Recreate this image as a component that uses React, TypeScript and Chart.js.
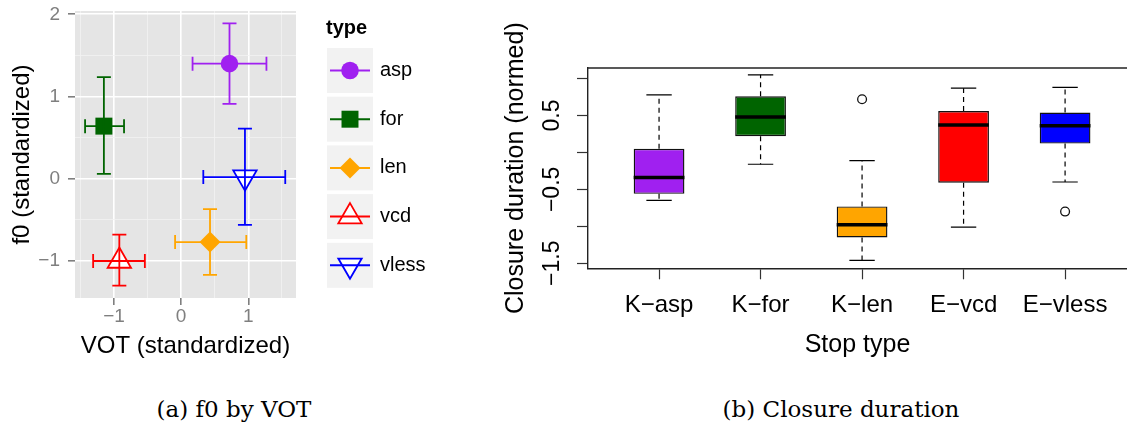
import React, { useEffect, useRef } from 'react';
import { Chart, registerables } from 'chart.js';
import { drawPoint } from 'chart.js/helpers';

Chart.register(...registerables);

const SANS = "'Liberation Sans', Arial, Helvetica, sans-serif";
const SERIF = "'DejaVu Serif', 'Liberation Serif', serif";

// ---------- Panel (a): f0 by VOT ----------
const types = ['asp', 'for', 'len', 'vcd', 'vless'];
const votMean = [0.72, -1.15, 0.43, -0.92, 0.95];
const votLow = [0.17, -1.43, -0.09, -1.31, 0.33];
const votHigh = [1.27, -0.85, 0.97, -0.54, 1.55];
const f0Mean = [1.4, 0.64, -0.77, -1.0, 0.02];
const f0Low = [0.91, 0.06, -1.17, -1.3, -0.56];
const f0High = [1.89, 1.235, -0.37, -0.68, 0.61];
const typeColors = ['#A020F0', '#006400', '#FFA500', '#FF0000', '#0000FF'];
const typeShapes = ['circle', 'rect', 'rectRot', 'triangle', 'triangle'];
const typeRotations = [0, 0, 0, 0, 180];
const typeFilled = [true, true, true, false, false];
const typeRadius = [8.8, 12, 10.5, 13.5, 13.5];

// ---------- Panel (b): closure duration ----------
const stopTypes = ['K\u2212asp', 'K\u2212for', 'K\u2212len', 'E\u2212vcd', 'E\u2212vless'];
const whiskerLow = [-0.65, -0.16, -1.46, -1.01, -0.4];
const boxQ1 = [-0.56, 0.22, -1.15, -0.41, 0.12];
const boxMedian = [-0.34, 0.48, -0.98, 0.37, 0.36];
const boxQ3 = [0.05, 0.76, -0.73, 0.56, 0.54];
const whiskerHigh = [0.78, 1.05, -0.11, 0.87, 0.88];
const outlierCategory = [3, 5];
const outlierValue = [0.72, -0.8];
const stopColors = ['#A020F0', '#006400', '#FFA500', '#FF0000', '#0000FF'];
const durationLabelTicks = [0.5, -0.5, -1.5];

const isWhole = (v: number) => Math.abs(v - Math.round(v)) < 1e-9;
const fmt = (v: number) => (v < 0 ? '\u2212' + String(Math.abs(v)) : String(v));
const noScalePadding = (s: any) => {
  s.paddingTop = 0;
  s.paddingBottom = 0;
  s.paddingLeft = 0;
  s.paddingRight = 0;
};
const fixWidth = (w: number) => (s: any) => {
  noScalePadding(s);
  s.width = w;
};
const fixHeight = (h: number) => (s: any) => {
  noScalePadding(s);
  s.height = h;
};

const panelBgPlugin = {
  id: 'panelBg',
  beforeDraw(chart: any) {
    const { ctx, chartArea: a } = chart;
    ctx.save();
    ctx.fillStyle = '#E5E5E5';
    ctx.fillRect(a.left, a.top, a.right - a.left, a.bottom - a.top);
    ctx.restore();
  },
};

const errorBarPlugin = {
  id: 'errorBars',
  afterDatasetsDraw(chart: any) {
    const { ctx } = chart;
    const x = chart.scales.x;
    const y = chart.scales.y;
    const cap = 7;
    ctx.save();
    ctx.lineWidth = 1.8;
    types.forEach((_, i) => {
      ctx.strokeStyle = typeColors[i];
      const px = x.getPixelForValue(votMean[i]);
      const py = y.getPixelForValue(f0Mean[i]);
      const x0 = x.getPixelForValue(votLow[i]);
      const x1 = x.getPixelForValue(votHigh[i]);
      const y0 = y.getPixelForValue(f0Low[i]);
      const y1 = y.getPixelForValue(f0High[i]);
      ctx.beginPath();
      ctx.moveTo(x0, py); ctx.lineTo(x1, py);
      ctx.moveTo(x0, py - cap); ctx.lineTo(x0, py + cap);
      ctx.moveTo(x1, py - cap); ctx.lineTo(x1, py + cap);
      ctx.moveTo(px, y0); ctx.lineTo(px, y1);
      ctx.moveTo(px - cap, y0); ctx.lineTo(px + cap, y0);
      ctx.moveTo(px - cap, y1); ctx.lineTo(px + cap, y1);
      ctx.stroke();
    });
    ctx.restore();
  },
};

const typeLegendPlugin = {
  id: 'typeLegend',
  afterDraw(chart: any) {
    const { ctx, chartArea: a } = chart;
    const left = a.right + 31;
    const top = a.top + 37;
    const key = 46;
    const pitch = 48.7;
    ctx.save();
    ctx.textAlign = 'left';
    ctx.textBaseline = 'middle';
    ctx.fillStyle = '#000';
    ctx.font = `bold 20px ${SANS}`;
    ctx.fillText('type', left - 1, a.top + 17);
    chart.data.datasets.forEach((ds: any, i: number) => {
      const ky = top + i * pitch;
      ctx.fillStyle = '#F2F2F2';
      ctx.fillRect(left, ky, key, key - 1);
      const cx = left + key / 2;
      const cy = ky + (key - 1) / 2;
      ctx.fillStyle = ds.pointBackgroundColor;
      ctx.strokeStyle = ds.pointBorderColor;
      ctx.lineWidth = ds.pointBorderWidth;
      drawPoint(ctx, {
        pointStyle: ds.pointStyle,
        rotation: ds.pointRotation,
        radius: ds.pointRadius,
        borderWidth: ds.pointBorderWidth,
      } as any, cx, cy);
      ctx.strokeStyle = ds.pointBorderColor;
      ctx.lineWidth = 2;
      ctx.beginPath();
      ctx.moveTo(left + 3, cy);
      ctx.lineTo(left + key - 3, cy);
      ctx.stroke();
      ctx.fillStyle = '#000';
      ctx.font = `20px ${SANS}`;
      ctx.fillText(ds.label, left + 53, cy);
    });
    ctx.restore();
  },
};

const boxDetailPlugin = {
  id: 'boxDetail',
  afterDatasetsDraw(chart: any) {
    const { ctx } = chart;
    const x = chart.scales.x;
    const y = chart.scales.y;
    ctx.save();
    stopTypes.forEach((_, i) => {
      const pos = i + 1;
      const cx = x.getPixelForValue(pos);
      const half = (x.getPixelForValue(pos + 0.25) - x.getPixelForValue(pos - 0.25)) / 2;
      const capHalf = half / 2;
      const yMed = y.getPixelForValue(boxMedian[i]);
      const yQ1 = y.getPixelForValue(boxQ1[i]);
      const yQ3 = y.getPixelForValue(boxQ3[i]);
      const yLo = y.getPixelForValue(whiskerLow[i]);
      const yHi = y.getPixelForValue(whiskerHigh[i]);
      ctx.strokeStyle = '#000';
      ctx.lineWidth = 1.2;
      ctx.setLineDash([5, 4]);
      ctx.beginPath();
      ctx.moveTo(cx, yQ3); ctx.lineTo(cx, yHi);
      ctx.moveTo(cx, yQ1); ctx.lineTo(cx, yLo);
      ctx.stroke();
      ctx.setLineDash([]);
      ctx.beginPath();
      ctx.moveTo(cx - capHalf, yHi); ctx.lineTo(cx + capHalf, yHi);
      ctx.moveTo(cx - capHalf, yLo); ctx.lineTo(cx + capHalf, yLo);
      ctx.stroke();
      ctx.lineWidth = 3.5;
      ctx.beginPath();
      ctx.moveTo(cx - half, yMed); ctx.lineTo(cx + half, yMed);
      ctx.stroke();
    });
    ctx.restore();
  },
};

const frameTopPlugin = {
  id: 'frameTop',
  afterDraw(chart: any) {
    const { ctx, chartArea: a } = chart;
    ctx.save();
    ctx.strokeStyle = '#222';
    ctx.lineWidth = 1.4;
    ctx.beginPath();
    ctx.moveTo(a.left - 0.7, a.top);
    ctx.lineTo(a.right, a.top);
    ctx.stroke();
    ctx.restore();
  },
};

export default function App() {
  const refA = useRef<HTMLCanvasElement>(null);
  const refB = useRef<HTMLCanvasElement>(null);

  useEffect(() => {
    document.body.style.margin = '0';
    const chartA = new Chart(refA.current as HTMLCanvasElement, {
      type: 'scatter',
      data: {
        datasets: types.map((t, i) => ({
          label: t,
          data: [{ x: votMean[i], y: f0Mean[i] }],
          pointStyle: typeShapes[i],
          pointRotation: typeRotations[i],
          pointRadius: typeRadius[i],
          pointBackgroundColor: typeFilled[i] ? typeColors[i] : '#FFFFFF',
          pointBorderColor: typeColors[i],
          pointBorderWidth: typeFilled[i] ? 0 : 1.8,
          backgroundColor: typeFilled[i] ? typeColors[i] : '#FFFFFF',
          borderColor: typeColors[i],
        })) as any,
      },
      options: {
        responsive: false,
        animation: false,
        events: [],
        layout: { autoPadding: false, padding: { left: 3.5, top: 11, right: 174, bottom: 0 } },
        plugins: { legend: { display: false }, tooltip: { enabled: false } },
        scales: {
          x: {
            type: 'linear',
            min: -1.58,
            max: 1.71,
            afterFit: fixHeight(63),
            border: { display: false },
            grid: {
              color: (c: any) => (isWhole(c.tick.value) ? '#FFFFFF' : '#F2F2F2'),
              lineWidth: (c: any) => (isWhole(c.tick.value) ? 1.6 : 0.8),
              tickColor: (c: any) => (isWhole(c.tick.value) ? '#7F7F7F' : 'rgba(0,0,0,0)'),
              tickLength: 7,
              tickWidth: 1.6,
            },
            ticks: {
              stepSize: 0.5,
              includeBounds: false,
              autoSkip: false,
              maxRotation: 0,
              padding: 0,
              color: '#7F7F7F',
              font: { family: SANS, size: 19 },
              callback: (v: any) => (isWhole(Number(v)) ? fmt(Math.round(Number(v))) : ''),
            },
            title: {
              display: true,
              text: 'VOT (standardized)',
              color: '#000',
              font: { family: SANS, size: 24 },
              padding: { top: 2, bottom: 0 },
            },
          },
          y: {
            type: 'linear',
            min: -1.45,
            max: 2.04,
            afterFit: fixWidth(71.5),
            border: { display: false },
            grid: {
              color: (c: any) => (isWhole(c.tick.value) ? '#FFFFFF' : '#F2F2F2'),
              lineWidth: (c: any) => (isWhole(c.tick.value) ? 1.6 : 0.8),
              tickColor: (c: any) => (isWhole(c.tick.value) ? '#7F7F7F' : 'rgba(0,0,0,0)'),
              tickLength: 7,
              tickWidth: 1.6,
            },
            ticks: {
              stepSize: 0.5,
              includeBounds: false,
              autoSkip: false,
              padding: 8,
              color: '#7F7F7F',
              font: { family: SANS, size: 19 },
              callback: (v: any) => (isWhole(Number(v)) ? fmt(Math.round(Number(v))) : ''),
            },
            title: {
              display: true,
              text: 'f0 (standardized)',
              color: '#000',
              font: { family: SANS, size: 24 },
              padding: { top: 4, bottom: 2 },
            },
          },
        },
      } as any,
      plugins: [panelBgPlugin, errorBarPlugin, typeLegendPlugin],
    });

    const chartB = new Chart(refB.current as HTMLCanvasElement, {
      type: 'bar',
      data: {
        datasets: [
          {
            type: 'bar',
            label: 'box',
            data: stopTypes.map((_, i) => ({ x: i + 1, y: [boxQ1[i], boxQ3[i]] })),
            backgroundColor: stopColors,
            borderColor: '#111',
            borderWidth: 1.4,
            borderSkipped: false,
            barPercentage: 0.5,
            categoryPercentage: 1.0,
          },
          {
            type: 'scatter',
            label: 'outliers',
            data: outlierCategory.map((c, i) => ({ x: c, y: outlierValue[i] })),
            pointStyle: 'circle',
            pointRadius: 4.4,
            pointBackgroundColor: 'rgba(0,0,0,0)',
            pointBorderColor: '#111',
            pointBorderWidth: 1.3,
          },
        ] as any,
      },
      options: {
        responsive: false,
        animation: false,
        events: [],
        layout: { autoPadding: false, padding: { left: 31.5, top: 68, right: 0, bottom: 0 } },
        plugins: { legend: { display: false }, tooltip: { enabled: false } },
        scales: {
          x: {
            type: 'linear',
            min: 0.3,
            max: 5.61,
            offset: false,
            afterFit: fixHeight(91.7),
            border: { display: true, color: '#222', width: 1.4 },
            grid: {
              offset: false,
              drawOnChartArea: false,
              drawTicks: true,
              tickLength: 11,
              tickColor: '#333',
              tickWidth: 1.2,
            },
            ticks: {
              stepSize: 1,
              includeBounds: false,
              autoSkip: false,
              maxRotation: 0,
              padding: 12,
              color: '#000',
              font: { family: SANS, size: 24 },
              callback: (v: any) => stopTypes[Math.round(Number(v)) - 1] ?? '',
            },
            title: {
              display: true,
              text: 'Stop type',
              color: '#000',
              font: { family: SANS, size: 25 },
              padding: { top: 16, bottom: 0 },
            },
          },
          y: {
            type: 'linear',
            min: -1.568,
            max: 1.143,
            afterFit: fixWidth(86.5),
            border: { display: true, color: '#222', width: 1.4 },
            grid: {
              drawOnChartArea: false,
              drawTicks: true,
              tickLength: 11,
              tickColor: '#333',
              tickWidth: 1.2,
            },
            ticks: {
              stepSize: 0.5,
              includeBounds: false,
              autoSkip: false,
              minRotation: 90,
              maxRotation: 90,
              crossAlign: 'center',
              padding: 1.3,
              color: '#000',
              font: { family: SANS, size: 23 },
              callback: (v: any) =>
                durationLabelTicks.some((t) => Math.abs(t - Number(v)) < 1e-9) ? fmt(Number(v)) : '',
            },
            title: {
              display: true,
              text: 'Closure duration (normed)',
              color: '#000',
              font: { family: SANS, size: 25 },
              padding: { top: 0, bottom: 0 },
            },
          },
        },
      } as any,
      plugins: [boxDetailPlugin, frameTopPlugin],
    });

    return () => {
      chartA.destroy();
      chartB.destroy();
    };
  }, []);

  const captionStyle: React.CSSProperties = {
    position: 'absolute',
    fontFamily: SERIF,
    fontSize: '23px',
    lineHeight: '28px',
    color: '#000',
    textAlign: 'center',
    whiteSpace: 'nowrap',
  };

  return (
    <div style={{ position: 'relative', width: 1127, height: 424, background: '#fff', overflow: 'hidden' }}>
      <canvas ref={refA} width={470} height={361} style={{ position: 'absolute', left: 0, top: 0 }} />
      <canvas ref={refB} width={657} height={360} style={{ position: 'absolute', left: 470, top: 0 }} />
      <div style={{ ...captionStyle, left: 84, width: 300, top: 395 }}>(a) f0 by VOT</div>
      <div style={{ ...captionStyle, left: 641, width: 400, top: 395 }}>(b) Closure duration</div>
    </div>
  );
}
